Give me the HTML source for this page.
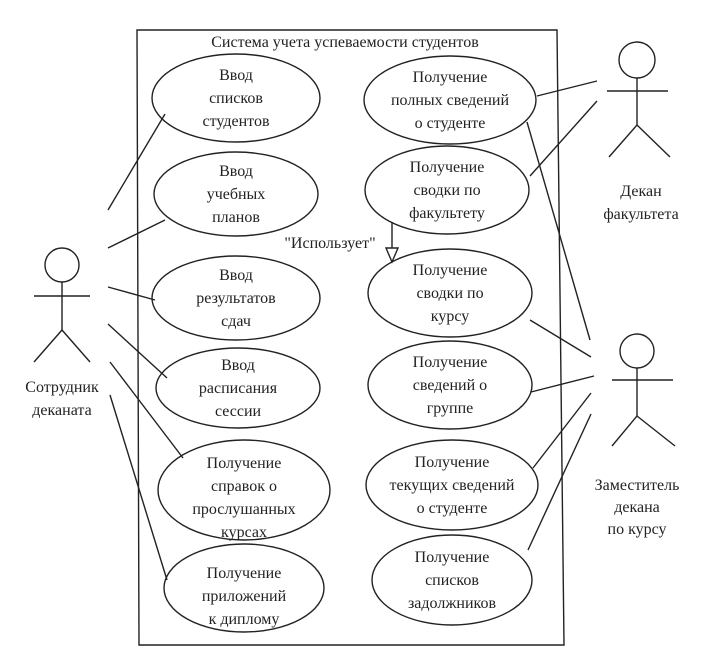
<!DOCTYPE html>
<html><head><meta charset="utf-8"><style>
html,body{margin:0;padding:0;background:#fff;}
svg{display:block;}
text{font-family:"Liberation Serif","DejaVu Serif",serif;font-size:16px;fill:#222;text-anchor:middle;}
</style></head><body>
<svg width="703" height="667" viewBox="0 0 703 667" xmlns="http://www.w3.org/2000/svg">
<g stroke="#222" stroke-width="1.4" fill="none">
<polygon points="137,30 557,30 564,645 139,645"/>
<!-- left ellipses -->
<ellipse cx="236" cy="98" rx="84" ry="44"/>
<ellipse cx="236" cy="194" rx="82" ry="42"/>
<ellipse cx="236" cy="298" rx="84" ry="42"/>
<ellipse cx="238" cy="388" rx="82" ry="40"/>
<ellipse cx="244" cy="490" rx="86" ry="50"/>
<ellipse cx="244" cy="588" rx="80" ry="44"/>
<!-- right ellipses -->
<ellipse cx="450" cy="100" rx="86" ry="44"/>
<ellipse cx="447" cy="190" rx="82" ry="44"/>
<ellipse cx="450" cy="293" rx="82" ry="44"/>
<ellipse cx="450" cy="385" rx="82" ry="44"/>
<ellipse cx="452" cy="485" rx="86" ry="45"/>
<ellipse cx="452" cy="580" rx="80" ry="45"/>
<!-- actors -->
<circle cx="62" cy="265" r="17"/>
<line x1="62" y1="282" x2="62" y2="330"/><line x1="34" y1="296" x2="90" y2="296"/>
<line x1="62" y1="330" x2="34" y2="362"/><line x1="62" y1="330" x2="90" y2="362"/>
<circle cx="637" cy="60" r="18"/>
<line x1="637" y1="78" x2="637" y2="125"/><line x1="607" y1="91" x2="668" y2="91"/>
<line x1="637" y1="125" x2="609" y2="157"/><line x1="637" y1="125" x2="670" y2="157"/>
<circle cx="637" cy="351" r="17"/>
<line x1="637" y1="368" x2="637" y2="416"/><line x1="612" y1="380" x2="673" y2="380"/>
<line x1="637" y1="416" x2="612" y2="446"/><line x1="637" y1="416" x2="675" y2="446"/>
<!-- left lines -->
<line x1="108" y1="210" x2="165" y2="114"/>
<line x1="108" y1="248" x2="165" y2="220"/>
<line x1="108" y1="287" x2="155" y2="300"/>
<line x1="108" y1="324" x2="167" y2="378"/>
<line x1="110" y1="362" x2="183" y2="458"/>
<line x1="110" y1="395" x2="167" y2="580"/>
<!-- right lines -->
<line x1="537" y1="96" x2="597" y2="81"/>
<line x1="530" y1="176" x2="597" y2="101"/>
<line x1="527" y1="122" x2="590" y2="340"/>
<line x1="530" y1="320" x2="591" y2="357"/>
<line x1="531" y1="392" x2="594" y2="376"/>
<line x1="533" y1="468" x2="591" y2="393"/>
<line x1="528" y1="550" x2="591" y2="414"/>
<!-- include arrow -->
<line x1="392" y1="222" x2="392" y2="250"/>
<polygon points="386,248 398,248 392,262" fill="#fff"/>
</g>
<text x="345" y="47">Система учета успеваемости студентов</text>
<text x="330" y="248">"Использует"</text>
<g>
<text x="236" y="80">Ввод</text><text x="236" y="103">списков</text><text x="236" y="126">студентов</text>
<text x="236" y="176">Ввод</text><text x="236" y="199">учебных</text><text x="236" y="222">планов</text>
<text x="236" y="280">Ввод</text><text x="236" y="303">результатов</text><text x="236" y="326">сдач</text>
<text x="238" y="370">Ввод</text><text x="238" y="393">расписания</text><text x="238" y="416">сессии</text>
<text x="244" y="468">Получение</text><text x="244" y="491">справок  о</text><text x="244" y="514">прослушанных</text><text x="244" y="537">курсах</text>
<text x="244" y="578">Получение</text><text x="244" y="601">приложений</text><text x="244" y="624">к диплому</text>
<text x="450" y="82">Получение</text><text x="450" y="105">полных сведений</text><text x="450" y="128">о студенте</text>
<text x="447" y="172">Получение</text><text x="447" y="195">сводки по</text><text x="447" y="218">факультету</text>
<text x="450" y="275">Получение</text><text x="450" y="298">сводки по</text><text x="450" y="321">курсу</text>
<text x="450" y="367">Получение</text><text x="450" y="390">сведений о</text><text x="450" y="413">группе</text>
<text x="452" y="467">Получение</text><text x="452" y="490">текущих сведений</text><text x="452" y="513">о студенте</text>
<text x="452" y="562">Получение</text><text x="452" y="585">списков</text><text x="452" y="608">задолжников</text>
<text x="62" y="392">Сотрудник</text><text x="62" y="415">деканата</text>
<text x="641" y="196">Декан</text><text x="641" y="219">факультета</text>
<text x="637" y="490">Заместитель</text><text x="637" y="512">декана</text><text x="637" y="534">по курсу</text>
</g>
</svg>
</body></html>
